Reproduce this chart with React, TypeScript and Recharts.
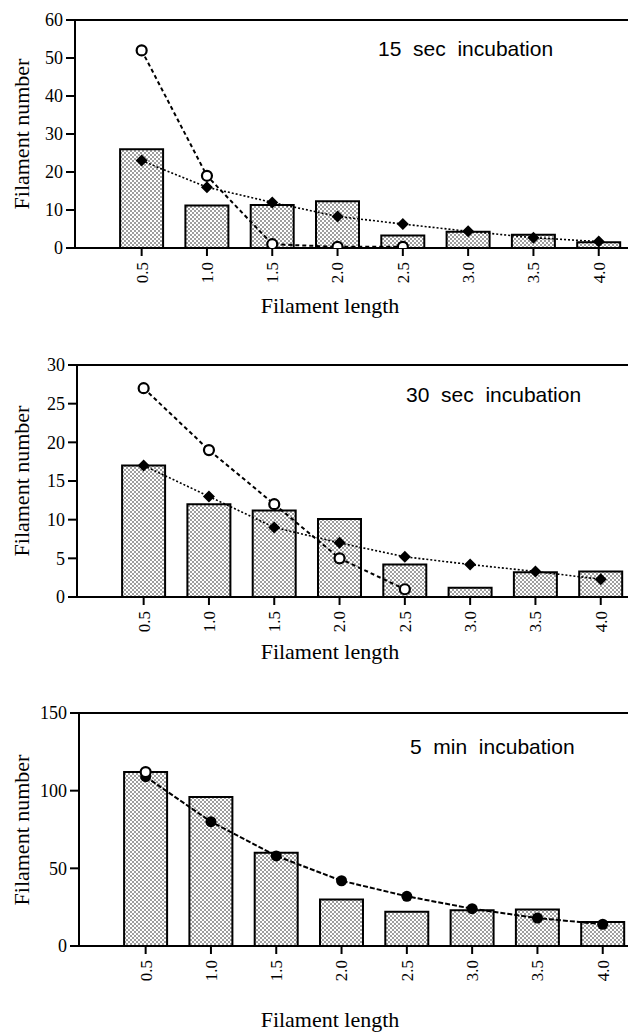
import React from 'react';
import {
  ComposedChart,
  Bar,
  Line,
  XAxis,
  YAxis,
  ReferenceLine,
} from 'recharts';

const lengths = ['0.5', '1.0', '1.5', '2.0', '2.5', '3.0', '3.5', '4.0'];

const bars15 = [26, 11.2, 11.3, 12.3, 3.3, 4.3, 3.5, 1.5];
const open15 = [52, 19, 1, 0.3, 0.3, null, null, null];
const fit15 = [23, 16, 12, 8.3, 6.3, 4.4, 2.7, 1.7];

const bars30 = [17, 12, 11.2, 10.1, 4.2, 1.2, 3.2, 3.3];
const open30 = [27, 19, 12, 5, 1, null, null, null];
const fit30 = [17, 13, 9, 7, 5.2, 4.2, 3.3, 2.3];

const bars5 = [112, 96, 60, 30, 22, 23, 23.5, 15.5];
const open5 = [112, null, null, null, null, null, null, null];
const fit5 = [109, 80, 58, 42, 32, 24, 18, 14];

const ticks15 = [0, 10, 20, 30, 40, 50, 60];
const ticks30 = [0, 5, 10, 15, 20, 25, 30];
const ticks5 = [0, 50, 100, 150];

const serif = '"Liberation Serif", "Times New Roman", serif';
const sans = '"Liberation Sans", Arial, sans-serif';

function build(bars: number[], open: (number | null)[], fit: number[]) {
  return lengths.map((len, i) => ({ len, bar: bars[i], open: open[i], fit: fit[i] }));
}

function RotTick({ x, y, payload }: any) {
  return (
    <g transform={`translate(${x},${y + 4})`}>
      <text
        transform="rotate(-90)"
        textAnchor="end"
        dy="0.35em"
        fontFamily={serif}
        fontSize={17}
        fill="#000"
      >
        {payload.value}
      </text>
    </g>
  );
}

function OpenDot({ cx, cy, value }: any) {
  if (value == null || cx == null || cy == null) return null;
  return <circle cx={cx} cy={cy} r={5} fill="#fff" stroke="#000" strokeWidth={2.2} />;
}

function Diamond({ cx, cy, value }: any) {
  if (value == null || cx == null || cy == null) return null;
  const s = 6;
  return (
    <polygon
      points={`${cx},${cy - s} ${cx + s},${cy} ${cx},${cy + s} ${cx - s},${cy}`}
      fill="#000"
    />
  );
}

function FilledDot({ cx, cy, value }: any) {
  if (value == null || cx == null || cy == null) return null;
  return <circle cx={cx} cy={cy} r={5.5} fill="#000" />;
}

type PanelProps = {
  id: string;
  top: number;
  axisX: number;
  plotH: number;
  max: number;
  ticks: number[];
  data: any[];
  title: string;
  titleX: number;
  titleY: number;
  labelY: number;
  fitDashed?: boolean;
  fitCircles?: boolean;
};

function Panel(p: PanelProps) {
  const band = 65.3;
  const padL = 34;
  const plotW = padL + band * 8;
  const width = p.axisX + plotW + 4;
  const height = 20 + p.plotH + 44;
  return (
    <>
      <div style={{ position: 'absolute', left: 0, top: p.top }}>
        <ComposedChart
          width={width}
          height={height}
          data={p.data}
          margin={{ top: 20, right: 4, bottom: 0, left: 0 }}
          barCategoryGap="17%"
        >
          <defs>
            <pattern id={`dots-${p.id}`} width={4} height={4} patternUnits="userSpaceOnUse">
              <rect width={4} height={4} fill="#fff" />
              <circle cx={1} cy={1} r={0.8} fill="#222" />
              <circle cx={3} cy={3} r={0.8} fill="#222" />
            </pattern>
          </defs>
          <XAxis
            dataKey="len"
            padding={{ left: padL, right: 0 }}
            axisLine={{ stroke: '#000', strokeWidth: 2 }}
            tickLine={{ stroke: '#000', strokeWidth: 2 }}
            tickSize={8}
            tick={<RotTick />}
            interval={0}
            height={44}
          />
          <YAxis
            domain={[0, p.max]}
            ticks={p.ticks}
            interval={0}
            width={p.axisX}
            axisLine={{ stroke: '#000', strokeWidth: 2 }}
            tickLine={{ stroke: '#000', strokeWidth: 2 }}
            tickSize={9}
            tickMargin={3}
            tick={{ fill: '#000', fontSize: 18, fontFamily: serif }}
            allowDataOverflow
          />
          <ReferenceLine y={p.max} stroke="#000" strokeWidth={2} />
          <Bar
            dataKey="bar"
            fill={`url(#dots-${p.id})`}
            stroke="#000"
            strokeWidth={2}
            isAnimationActive={false}
          />
          <Line
            dataKey="fit"
            stroke="#000"
            strokeWidth={p.fitDashed ? 2 : 1.6}
            strokeDasharray={p.fitDashed ? '5 2' : '2 2'}
            dot={p.fitCircles ? <FilledDot /> : <Diamond />}
            activeDot={false}
            isAnimationActive={false}
          />
          <Line
            dataKey="open"
            stroke="#000"
            strokeWidth={2}
            strokeDasharray="4 3"
            dot={<OpenDot />}
            activeDot={false}
            connectNulls={false}
            isAnimationActive={false}
          />
        </ComposedChart>
      </div>
      <div
        style={{
          position: 'absolute',
          left: p.titleX,
          top: p.titleY - 12,
          fontFamily: sans,
          fontSize: 21,
          whiteSpace: 'pre',
          lineHeight: '24px',
          color: '#000',
        }}
      >
        {p.title}
      </div>
      <div
        style={{
          position: 'absolute',
          left: 22 - 100,
          top: p.top + 20 + p.plotH / 2 - 12,
          width: 200,
          textAlign: 'center',
          transform: 'rotate(-90deg)',
          fontFamily: serif,
          fontSize: 22,
          lineHeight: '24px',
          color: '#000',
        }}
      >
        Filament number
      </div>
      <div
        style={{
          position: 'absolute',
          left: 330 - 100,
          top: p.labelY - 12,
          width: 200,
          textAlign: 'center',
          fontFamily: serif,
          fontSize: 22,
          lineHeight: '24px',
          color: '#000',
        }}
      >
        Filament length
      </div>
    </>
  );
}

export default function App() {
  return (
    <div
      style={{
        position: 'absolute',
        left: 0,
        top: 0,
        width: 628,
        height: 1034,
        overflow: 'hidden',
        background: '#fff',
      }}
    >
      <Panel
        id="a"
        top={0}
        axisX={75}
        plotH={228}
        max={60}
        ticks={ticks15}
        data={build(bars15, open15, fit15)}
        title={'15  sec  incubation'}
        titleX={378}
        titleY={49}
        labelY={306}
      />
      <Panel
        id="b"
        top={345}
        axisX={77}
        plotH={232}
        max={30}
        ticks={ticks30}
        data={build(bars30, open30, fit30)}
        title={'30  sec  incubation'}
        titleX={406}
        titleY={395}
        labelY={652}
      />
      <Panel
        id="c"
        top={693}
        axisX={79}
        plotH={233}
        max={150}
        ticks={ticks5}
        data={build(bars5, open5, fit5)}
        title={'5  min  incubation'}
        titleX={410}
        titleY={747}
        labelY={1020}
        fitDashed
        fitCircles
      />
    </div>
  );
}
